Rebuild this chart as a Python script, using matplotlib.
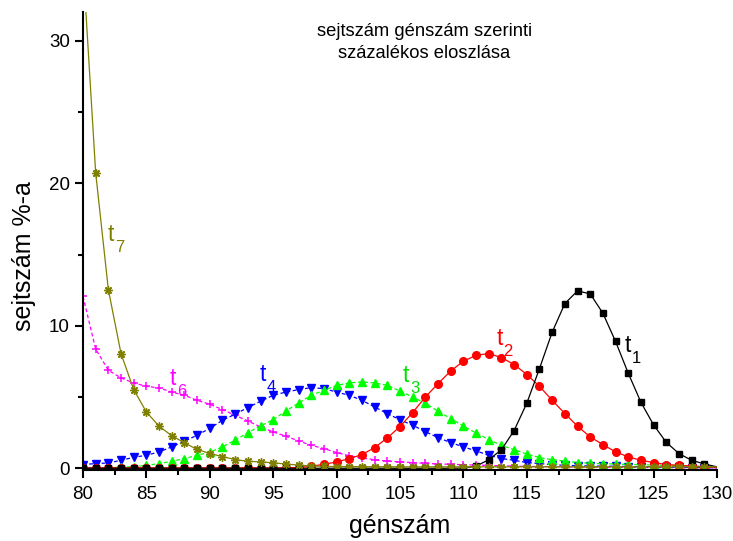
import matplotlib
matplotlib.use("Agg")
import matplotlib.pyplot as plt
from matplotlib.ticker import MultipleLocator
import numpy as np

plt.rcParams["font.family"] = ["Liberation Sans", "DejaVu Sans"]

x = np.arange(80, 131)

# t1 - black squares
t1 = [0.0] * 30 + [0.02, 0.15, 0.6, 1.3, 2.65, 4.57, 7.0, 9.55, 11.56, 12.45,
                   12.24, 10.88, 8.9, 6.67, 4.63, 3.04, 1.82, 1.03, 0.56, 0.3, 0.1]
# t2 - red circles
t2 = [0.03] * 16 + [0.03, 0.05, 0.14, 0.28, 0.44, 0.68, 0.96, 1.45, 2.13, 2.93,
                    3.91, 5.0, 5.94, 6.83, 7.51, 7.93, 8.05, 7.77, 7.28, 6.58,
                    5.75, 4.77, 3.84, 2.95, 2.2, 1.66, 1.15, 0.8, 0.56, 0.4,
                    0.26, 0.21, 0.15, 0.1, 0.05]
# t3 - green triangles
t3 = [0.02, 0.03, 0.04, 0.07, 0.12, 0.2, 0.33, 0.49, 0.68, 0.91,
      1.13, 1.5, 1.97, 2.5, 2.97, 3.41, 4.02, 4.58, 5.12, 5.47,
      5.82, 5.99, 6.06, 5.99, 5.82, 5.42, 5.0, 4.56, 4.0, 3.49,
      2.95, 2.48, 2.01, 1.61, 1.3, 1.0, 0.75, 0.6, 0.5, 0.4,
      0.35, 0.32, 0.3, 0.27, 0.25, 0.22, 0.2, 0.18, 0.15, 0.13, 0.1]
# t4 - blue down triangles
t4 = [0.26, 0.33, 0.37, 0.56, 0.77, 0.91, 1.15, 1.5, 1.89, 2.32,
      2.8, 3.37, 3.79, 4.26, 4.7, 5.12, 5.35, 5.52, 5.66, 5.59,
      5.35, 5.12, 4.77, 4.3, 3.84, 3.4, 3.02, 2.57, 2.15, 1.8,
      1.5, 1.22, 0.91, 0.68, 0.56, 0.4, 0.33, 0.26, 0.2, 0.18,
      0.16, 0.15, 0.14, 0.12, 0.11, 0.1, 0.08, 0.07, 0.05, 0.04, 0.03]
# t6 - magenta crosses
t6 = [12.07, 8.37, 6.88, 6.34, 5.99, 5.75, 5.64, 5.35, 5.12, 4.77,
      4.49, 4.12, 3.72, 3.32, 2.9, 2.55, 2.25, 1.92, 1.61, 1.38,
      1.1, 0.88, 0.72, 0.6, 0.5, 0.45, 0.4, 0.35, 0.3, 0.28,
      0.25, 0.22, 0.2, 0.17, 0.15, 0.13, 0.12, 0.11, 0.1, 0.09,
      0.08, 0.07, 0.07, 0.06, 0.05, 0.05, 0.04, 0.04, 0.03, 0.03, 0.03]
# t7 - olive asterisks
t7 = [35.4, 20.75, 12.54, 8.05, 5.52, 3.95, 2.95, 2.29, 1.78, 1.33,
      1.03, 0.82, 0.61, 0.49, 0.45, 0.38, 0.3, 0.22, 0.16, 0.13,
      0.12, 0.12, 0.11, 0.11, 0.11, 0.1, 0.1, 0.1, 0.1, 0.1,
      0.1, 0.1, 0.1, 0.1, 0.1, 0.1, 0.1, 0.1, 0.1, 0.1,
      0.1, 0.1, 0.1, 0.1, 0.1, 0.1, 0.1, 0.1, 0.1, 0.1, 0.1]

labels = ["1", "2", "3", "4", "6", "7"]
label_x = [122.74, 112.62, 105.24, 93.96, 86.86, 81.97]
label_y = [8.19, 8.66, 6.08, 6.15, 5.85, 15.98]
colors = ["black", "#ff0000", "#00e000", "#0000ff", "#ff00ff", "#808000"]

fig = plt.figure(figsize=(7.33, 5.41), dpi=100)
ax = fig.add_axes([0.1132, 0.1305, 0.865, 0.848])

me = slice(0, 50)
ax.plot(x, t6, color="#ff00ff", ls=(0, (3, 2)), lw=0.9, marker="+", ms=6, mew=1.1, markevery=me)
ax.plot(x, t4, color="#0000ff", ls=(0, (3, 2)), lw=0.9, marker="v", ms=6, markevery=me)
ax.plot(x, t3, color="#00ff00", ls=(0, (3, 2)), lw=0.9, marker="^", ms=6, markevery=me)
ax.plot(x, t2, color="#ff0000", ls="-", lw=0.9, marker="o", ms=5.5, markevery=me)
ax.plot(x, t1, color="black", ls="-", lw=0.9, marker="s", ms=4.5, markevery=me)
ax.plot(x, t7, color="#808000", ls="-", lw=0.9, marker=(8, 2, 0), ms=6, mew=1.0,
        markevery=me)

for n, lx, ly, c in zip(labels, label_x, label_y, colors):
    ax.text(lx, ly, "t", color=c, fontsize=16.5, ha="left", va="baseline")
    ax.annotate(n, (lx, ly), xytext=(5, -8), textcoords="offset points",
                color=c, fontsize=12, ha="left", va="baseline")

ax.set_xlim(80, 130)
ax.set_ylim(-0.15, 32.05)
ax.xaxis.set_major_locator(MultipleLocator(5))
ax.xaxis.set_minor_locator(MultipleLocator(2.5))
ax.yaxis.set_major_locator(MultipleLocator(10))
ax.yaxis.set_minor_locator(MultipleLocator(5))

for s in ["top", "right"]:
    ax.spines[s].set_visible(False)
for s in ["left", "bottom"]:
    ax.spines[s].set_linewidth(1.5)
ax.tick_params(which="major", direction="out", length=6, width=1.5, labelsize=13.5)
ax.tick_params(axis="x", which="major", pad=5)
ax.tick_params(which="minor", direction="out", length=3.5, width=1.5)

ax.set_xlabel("génszám", fontsize=18, labelpad=8)
ax.set_ylabel("sejtszám %-a", fontsize=18)
ax.yaxis.set_label_coords(-0.074, 0.467)

ax.text(0.538, 0.975, "sejtszám génszám szerinti\nszázalékos eloszlása",
        transform=ax.transAxes, ha="center", va="top", fontsize=13.2,
        linespacing=1.4)

fig.savefig("out.png", dpi=100)
